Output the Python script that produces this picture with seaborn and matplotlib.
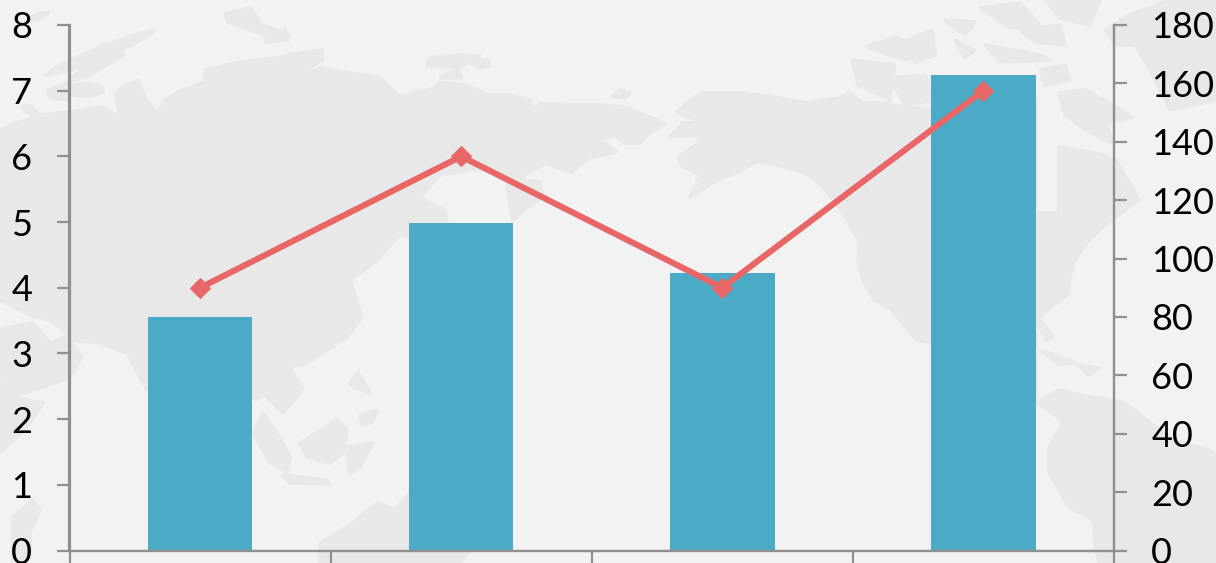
import matplotlib
matplotlib.use("Agg")
import matplotlib.pyplot as plt
from matplotlib.patches import Polygon, Ellipse
import seaborn as sns

# ---- chart data ----
categories = ["A", "B", "C", "D"]
bar_values = [3.55, 4.99, 4.22, 7.24]
line_values = [90, 135, 90, 157.5]
left_ticks = [0, 1, 2, 3, 4, 5, 6, 7, 8]
right_ticks = [0, 20, 40, 60, 80, 100, 120, 140, 160, 180]

BG = "#f2f2f2"
LAND = "#e8e8e8"
BAR = "#4babc6"
LINE = "#e96666"
AXIS = "#8f8f8f"

# ---- decorative world-map backdrop outlines (pixel space) ----
land_shapes = [
    # Eurasia
    [(0,130),(20,122),(40,115),(70,112),(100,107),(120,116),(130,128),(145,125),(160,110),(165,100),
     (178,92),(205,82),(205,70),(240,62),(275,58),(290,55),(322,50),(322,60),(290,80),(320,68),(380,78),
     (400,97),(415,92),(430,90),(440,82),(465,85),(490,95),(510,95),(530,100),(535,110),(540,103),
     (570,105),(600,105),(625,107),(640,113),(665,123),(650,133),(640,143),(625,143),(615,135),(600,140),
     (617,152),(588,158),(572,172),(557,168),(547,163),(527,173),(520,180),(540,182),(543,197),(528,207),
     (513,220),(508,193),(505,172),(470,170),(440,175),(420,198),(445,210),(447,224),(430,240),(400,235),
     (375,262),(350,280),(362,317),(347,337),(307,363),(290,367),(303,390),(283,413),(265,395),(255,400),
     (250,390),(147,390),(127,353),(100,343),(70,340),(82,357),(70,377),(43,387),(10,397),(0,377),
     (0,330),(20,325),(33,323),(50,343),(70,335),(50,320),(30,315),(0,300)],
    # Africa corner
    [(0,452),(25,430),(43,403),(15,398),(0,385)],
    # Madagascar
    [(13,517),(33,500),(40,510),(30,533),(30,557),(13,560)],
    # Australia
    [(320,563),(320,543),(350,525),(377,503),(395,510),(410,493),(440,500),(470,550),(460,563)],
    # Borneo
    [(300,443),(337,420),(347,430),(343,453),(330,463),(307,457)],
    # Sumatra
    [(263,413),(283,443),(290,457),(287,472),(270,463),(253,433)],
    # Java
    [(283,475),(327,480),(330,484),(290,483)],
    # Sulawesi
    [(347,447),(373,443),(360,467),(350,473)],
    # Philippines
    [(350,383),(358,372),(370,393),(353,387)],
    [(360,415),(378,410),(372,422),(362,425)],
    # North America
    [(677,112),(693,98),(703,93),(740,93),(767,96),(806,103),(839,98),(849,93),(863,103),(883,103),
     (906,107),(936,110),(1000,100),(1036,97),(1036,213),(1059,213),(1059,147),(1096,153),(1116,160),
     (1139,200),(1105,225),(1089,240),(1075,260),(1069,280),(1069,293),(1039,317),(1053,337),(1046,340),
     (1036,320),(1036,403),(931,343),(916,340),(889,307),(874,300),(863,280),(858,263),(859,240),(843,213),
     (823,187),(806,173),(770,163),(755,162),(738,172),(717,180),(690,197),(700,175),(683,167),(678,157),
     (700,142),(695,135),(670,137),(683,123),(702,122)],
    # Labrador
    [(1059,93),(1086,90),(1133,117),(1106,123),(1113,143),(1085,130),(1065,115)],
    # South America
    [(1036,403),(1053,413),(1063,423),(1049,447),(1049,473),(1069,507),(1093,520),(1096,550),(1099,563),
     (1216,563),(1216,455),(1209,450),(1173,440),(1123,402),(1089,397),(1060,390)],
    # Greenland
    [(1216,100),(1170,110),(1150,70),(1135,45),(1115,45),(1105,30),(1130,15),(1170,0),(1216,0)],
    # Caribbean
    [(1040,350),(1075,362),(1060,365)],
    [(1078,365),(1100,368),(1088,375)],
    # Arctic islands, Asian side
    [(467,62),(480,56),(462,55),(430,58),(427,66),(460,68)],
    [(445,74),(458,71),(462,78),(440,78)],
    [(468,60),(488,60),(490,66),(478,68)],
    [(612,97),(620,90),(630,93),(625,98)],
    [(225,14),(250,8),(262,25),(290,35),(265,35),(228,22)],
    [(266,38),(285,30),(288,40),(265,42)],
    [(62,88),(85,65),(122,50),(124,55),(90,75),(68,82)],
    [(48,90),(70,82),(68,100),(50,98)],
    [(122,88),(138,80),(146,100),(165,122),(125,130),(115,95)],
    # Canadian Arctic
    [(866,47),(895,37),(930,50),(905,60)],
    [(852,60),(895,65),(890,100),(858,85)],
    [(890,78),(925,75),(935,100),(905,105)],
    [(902,43),(932,30),(935,55),(915,62)],
    [(945,20),(975,22),(965,35)],
    [(955,40),(975,50),(965,58)],
    [(985,45),(1040,55),(1050,60),(1000,62)],
    [(980,8),(1020,3),(1040,25),(1010,28)],
    [(1020,30),(1060,25),(1065,45),(1035,42)],
    [(1045,0),(1100,0),(1090,25),(1060,18)],
    [(1040,70),(1065,65),(1070,80),(1045,85)],
]
land_ellipses = [((37,17),(28,8),-20), ((100,53),(120,14),-22), ((85,90),(40,16),0),
                 ((30,110),(20,10),30)]

# ---- figure ----
sns.set_theme(style="white")
plt.rcParams["font.family"] = ["Lato", "DejaVu Sans"]
W, H = 1216, 563
fig = plt.figure(figsize=(W / 100, H / 100), dpi=100, facecolor=BG)

bg = fig.add_axes([0, 0, 1, 1], zorder=0)
bg.set_xlim(0, W)
bg.set_ylim(H, 0)
bg.axis("off")
for pts in land_shapes:
    bg.add_patch(Polygon(pts, closed=True, facecolor=LAND, edgecolor=LAND, linewidth=2.5, joinstyle="round"))
for c, s, a in land_ellipses:
    bg.add_patch(Ellipse(c, s[0], s[1], angle=a, facecolor=LAND, edgecolor="none"))

ax = fig.add_axes([69.5 / W, (H - 550.5) / H, 1044.5 / W, 525.5 / H], zorder=1)
ax.patch.set_alpha(0)
sns.barplot(x=categories, y=bar_values, color=BAR, saturation=1, width=0.4, edgecolor="none", linewidth=0, ax=ax)
ax.set_xlim(-0.5, 3.5)
ax.set_ylim(0, 8)
ax.set_yticks(left_ticks)
ax.set_xticks([-0.5, 0.5, 1.5, 2.5, 3.5])
ax.set_xticklabels([])

ax2 = ax.twinx()
ax2.patch.set_alpha(0)
sns.lineplot(x=categories, y=line_values, color=LINE, linewidth=4.4, marker="D", markersize=10,
             markeredgecolor=LINE, sort=False, errorbar=None, ax=ax2)
ax2.set_ylim(0, 180)
ax2.set_yticks(right_ticks)
ax.set_xlim(-0.5, 3.5)

for a in (ax, ax2):
    a.grid(False)
    a.set_xlabel("")
    a.set_ylabel("")
    for s in ("left", "right", "bottom"):
        a.spines[s].set_visible(True)
        a.spines[s].set_color(AXIS)
        a.spines[s].set_linewidth(1.6)
    a.spines["top"].set_visible(False)
    a.tick_params(axis="y", left=a is ax, right=a is ax2, length=9.4, width=1.6, color=AXIS,
                  labelsize=26, labelcolor="black", pad=17.5)
    a.tick_params(axis="x", bottom=True, length=9.4, width=1.6, color=AXIS)

fig.savefig("out.png", dpi=100, facecolor=BG)
